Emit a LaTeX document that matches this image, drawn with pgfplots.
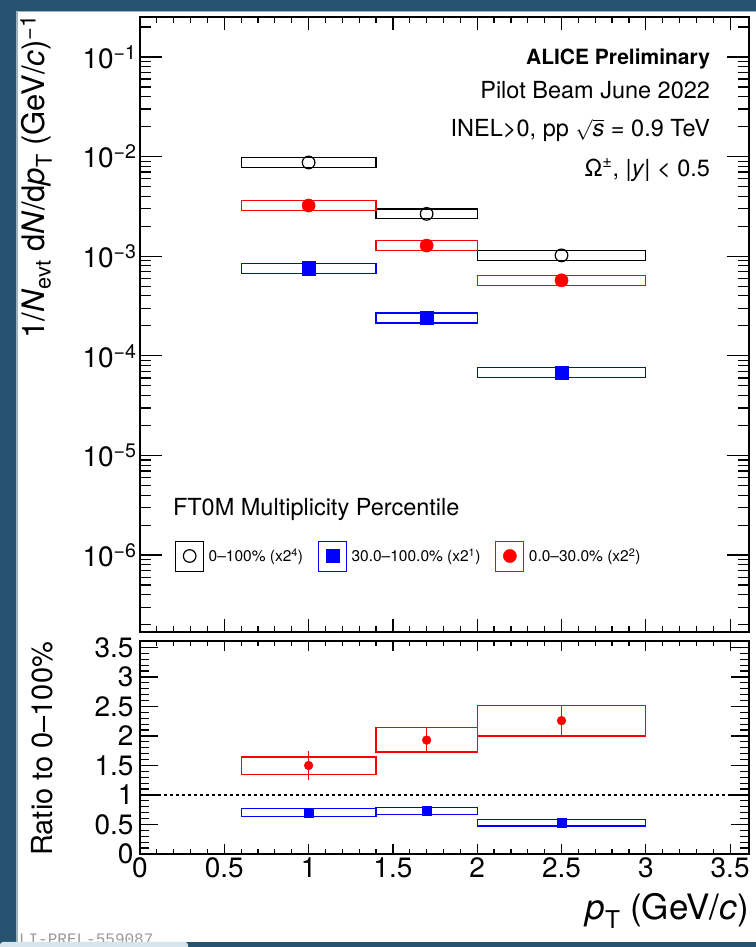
\documentclass[border=0pt]{standalone}
\usepackage{pgfplots}
\pgfplotsset{compat=1.18}
\usepackage{pgfplotstable}
\usepackage{fontspec}
\setmainfont{TeX Gyre Heros}
\newfontfamily\monofont{Liberation Mono}

\definecolor{rootred}{RGB}{255,0,0}
\definecolor{rootblue}{RGB}{0,0,255}
\definecolor{framedark}{RGB}{38,84,112}
\definecolor{framelight}{RGB}{214,228,236}

% Omega spectra (scaled as in the legend): bin centre, value, bin edges, systematic box
\pgfplotstableread{
x   y        xlo  xhi  ylo       yhi
1.0 8.73e-3  0.6  1.4  7.79e-3   9.78e-3
1.7 2.66e-3  1.4  2.0  2.38e-3   2.98e-3
2.5 1.02e-3  2.0  3.0  0.911e-3  1.14e-3
}\specAll
\pgfplotstableread{
x   y        xlo  xhi  ylo       yhi
1.0 3.23e-3  0.6  1.4  2.88e-3   3.62e-3
1.7 1.28e-3  1.4  2.0  1.14e-3   1.43e-3
2.5 5.73e-4  2.0  3.0  5.12e-4   6.42e-4
}\specHigh
\pgfplotstableread{
x   y        xlo  xhi  ylo       yhi
1.0 7.57e-4  0.6  1.4  6.76e-4   8.48e-4
1.7 2.40e-4  1.4  2.0  2.14e-4   2.69e-4
2.5 6.83e-5  2.0  3.0  6.10e-5   7.65e-5
}\specLow

% Ratios to 0-100%: value, statistical error, bin edges, systematic box
\pgfplotstableread{
x   y     err    xlo  xhi  ylo    yhi
1.0 1.50  0.245  0.6  1.4  1.35   1.645
1.7 1.93  0.20   1.4  2.0  1.73   2.14
2.5 2.26  0.25   2.0  3.0  2.00   2.52
}\ratioHigh
\pgfplotstableread{
x   y     err    xlo  xhi  ylo    yhi
1.0 0.70  0.03   0.6  1.4  0.64   0.765
1.7 0.73  0.03   1.4  2.0  0.67   0.79
2.5 0.53  0.03   2.0  3.0  0.475  0.59
}\ratioLow

% systematic boxes of one table, drawn as closed outlines
\newcommand\sysboxes[2]{%
  \pgfplotstablegetrowsof{#1}%
  \pgfmathtruncatemacro\lastrow{\pgfplotsretval-1}%
  \pgfplotsforeachungrouped \rowidx in {0,...,\lastrow}{%
    \pgfplotstablegetelem{\rowidx}{xlo}\of{#1}\let\bxlo\pgfplotsretval
    \pgfplotstablegetelem{\rowidx}{xhi}\of{#1}\let\bxhi\pgfplotsretval
    \pgfplotstablegetelem{\rowidx}{ylo}\of{#1}\let\bylo\pgfplotsretval
    \pgfplotstablegetelem{\rowidx}{yhi}\of{#1}\let\byhi\pgfplotsretval
    \edef\next{\noexpand\addplot[draw=#2, forget plot, mark=none, line width=1.2bp]
      coordinates {(\bxlo,\bylo) (\bxhi,\bylo) (\bxhi,\byhi) (\bxlo,\byhi)} -- cycle;}%
    \next
  }%
}

\pgfplotsset{
  rootframe/.style={
    scale only axis, width=609bp,
    xmin=0, xmax=3.612,
    axis line style={line width=2.6bp},
    tick align=inside,
    every tick/.style={black, line width=1.2bp},
    xtick={0,0.5,...,3.5}, minor x tick num=4,
    ticklabel style={font=\fontsize{28bp}{30bp}\selectfont},
    /pgf/number format/assume math mode=true,
  },
}

\begin{document}
\begin{tikzpicture}
\useasboundingbox (0,0) rectangle (756bp,947bp);
\fill[white] (0,0) rectangle (756bp,947bp);

% ---------------- spectra ----------------
\begin{axis}[rootframe,
  at={(140bp,315bp)}, anchor=south west, height=615bp,
  ymode=log, ymin=1.69e-7, ymax=0.252,
  xticklabel=\empty,
  xtick style={/pgfplots/major tick length=13bp, /pgfplots/minor tick length=6.5bp},
  ytick style={/pgfplots/major tick length=22bp, /pgfplots/minor tick length=11bp},
  ytick={1e-6,1e-5,1e-4,1e-3,1e-2,1e-1},
  yticklabels={10\textsuperscript{−6},10\textsuperscript{−5},10\textsuperscript{−4},
               10\textsuperscript{−3},10\textsuperscript{−2},10\textsuperscript{−1}},
  minor ytick={2e-7,3e-7,4e-7,5e-7,6e-7,7e-7,8e-7,9e-7,
               2e-6,3e-6,4e-6,5e-6,6e-6,7e-6,8e-6,9e-6,
               2e-5,3e-5,4e-5,5e-5,6e-5,7e-5,8e-5,9e-5,
               2e-4,3e-4,4e-4,5e-4,6e-4,7e-4,8e-4,9e-4,
               2e-3,3e-3,4e-3,5e-3,6e-3,7e-3,8e-3,9e-3,
               2e-2,3e-2,4e-2,5e-2,6e-2,7e-2,8e-2,9e-2,2e-1},
  legend columns=3,
  legend cell align=left,
  legend style={at={(axis description cs:0.0575,0.1236)}, anchor=west,
    draw=none, fill=none, inner sep=0pt,
    font=\fontsize{15.5bp}{18bp}\selectfont,
    /tikz/every even column/.append style={column sep=13bp}},
  legend image code/.code={%
    \draw[#1, line width=0.9bp, fill=none] (0bp,-15bp) rectangle (28bp,15bp);
    \draw[#1] plot coordinates {(14bp,0bp)};},
]
\sysboxes{\specAll}{black}
\sysboxes{\specHigh}{rootred}
\sysboxes{\specLow}{rootblue}
\addplot[only marks, black, mark=o, mark size=6.3bp, mark options={line width=1.2bp}]
  table[x=x, y=y]{\specAll};
\addlegendentry{\,0–100\% (x2\textsuperscript{4})}
\addplot[only marks, rootblue, mark=square*, mark size=6.6bp, mark options={fill=rootblue}]
  table[x=x, y=y]{\specLow};
\addlegendentry{\,30.0–100.0\% (x2\textsuperscript{1})}
\addplot[only marks, rootred, mark=*, mark size=6.6bp, mark options={fill=rootred}]
  table[x=x, y=y]{\specHigh};
\addlegendentry{\,0.0–30.0\% (x2\textsuperscript{2})}
\end{axis}

% ---------------- ratios ----------------
\begin{axis}[rootframe,
  at={(140bp,93bp)}, anchor=south west, height=213bp,
  ymin=0, ymax=3.61,
  xticklabels={0,0.5,1,1.5,2,2.5,3,3.5},
  ytick={0,0.5,...,3.5}, minor y tick num=4,
  yticklabels={0,0.5,1,1.5,2,2.5,3,3.5},
  yticklabel style={xshift=-3bp},
  xtick style={/pgfplots/major tick length=10bp, /pgfplots/minor tick length=5bp},
  ytick style={/pgfplots/major tick length=18bp, /pgfplots/minor tick length=9bp},
]
\addplot[black, line width=1.5bp, dash pattern=on 3bp off 3bp, forget plot]
  coordinates {(0,1) (3.612,1)};
\sysboxes{\ratioHigh}{rootred}
\sysboxes{\ratioLow}{rootblue}
\addplot[only marks, rootred, mark=*, mark size=4.4bp, mark options={fill=rootred},
  error bars/.cd, y dir=both, y explicit, error mark=none,
  error bar style={line width=1.2bp, rootred}]
  table[x=x, y=y, y error=err]{\ratioHigh};
\addplot[only marks, rootblue, mark=square*, mark size=4.5bp, mark options={fill=rootblue},
  error bars/.cd, y dir=both, y explicit, error mark=none,
  error bar style={line width=1.2bp, rootblue}]
  table[x=x, y=y, y error=err]{\ratioLow};
\end{axis}

% ---------------- text ----------------
\begin{scope}[every node/.style={inner sep=0pt, outer sep=0pt}]
\node[anchor=east, font=\fontsize{21bp}{25bp}\selectfont\bfseries] at (710bp,888bp) {ALICE Preliminary};
\node[anchor=east, font=\fontsize{23.5bp}{27bp}\selectfont] at (710bp,857bp) {Pilot Beam June 2022};
\node[anchor=east, font=\fontsize{23.5bp}{27bp}\selectfont] at (710bp,816bp)
  {INEL>0, pp \smash{{\fontsize{19bp}{22bp}\selectfont$\sqrt{\textit{\fontsize{23.5bp}{27bp}\selectfont s}}$}} = 0.9 TeV};
\node[anchor=east, font=\fontsize{23.5bp}{27bp}\selectfont] at (710bp,777bp) {Ω\textsuperscript{±}, |\textit{y}| < 0.5};
\node[anchor=west, font=\fontsize{23.5bp}{27bp}\selectfont] at (173bp,437bp) {FT0M Multiplicity Percentile};
\node[rotate=90, anchor=east, font=\fontsize{31bp}{34bp}\selectfont] at (36bp,932bp)
  {1/\textit{N}\textsubscript{evt} d\textit{N}/d\textit{p}\textsubscript{T} (GeV/\textit{c})\textsuperscript{−1}};
\node[rotate=90, anchor=east, font=\fontsize{29bp}{32bp}\selectfont] at (42bp,305bp) {Ratio to 0–100\%};
\node[anchor=east, font=\fontsize{35bp}{38bp}\selectfont] at (749bp,36bp)
  {\textit{p}\textsubscript{T} (GeV/\textit{c})};
\node[anchor=base west, font=\monofont\fontsize{16bp}{18bp}\selectfont, text=black!40] at (19bp,3bp) {LI-PREL-559087};
\end{scope}

% ---------------- window frame ----------------
\fill[framedark] (0,0) rectangle (16bp,947bp);
\fill[framedark] (0,936bp) rectangle (756bp,947bp);
\fill[framedark] (0,0) rectangle (756bp,5bp);
\fill[framelight, rounded corners=3bp] (0,-3bp) rectangle (188bp,5bp);
\draw[framedark!45!white, line width=1.5bp] (16.75bp,5bp) -- (16.75bp,935.25bp) -- (756bp,935.25bp);
\end{tikzpicture}
\end{document}
